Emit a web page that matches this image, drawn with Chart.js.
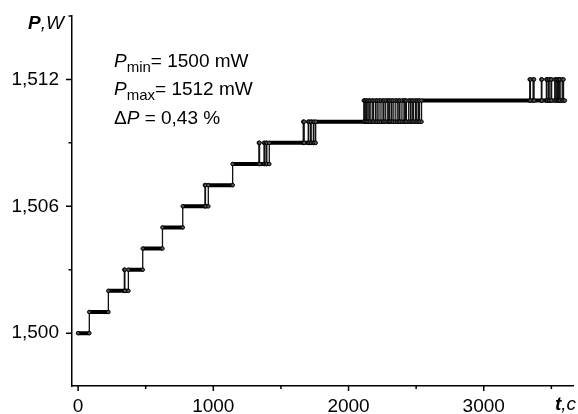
<!DOCTYPE html>
<html><head><meta charset="utf-8">
<script src="https://cdn.jsdelivr.net/npm/chart.js@4/dist/chart.umd.min.js"></script>
<style>html,body{margin:0;padding:0;background:#fff}#wrap{width:578px;height:414px}</style>
</head><body><div id="wrap"><canvas id="c" width="578" height="414"></canvas></div>
<script>
// time (s) at which each power level starts
const stepTimes = [
  0, 83, 224, 342, 346, 372, 478, 624, 774, 938, 942, 963, 1143,
  1337, 1342, 1375, 1380, 1392, 1396, 1414,
  1665, 1672, 1702, 1706, 1720, 1724, 1740, 1744, 1757,
  2113, 2120, 2130, 2138, 2150, 2160, 2175, 2185, 2200, 2212, 2225, 2240,
  2255, 2262, 2275, 2290, 2300, 2305, 2318, 2330, 2345, 2360, 2372, 2380,
  2395, 2410, 2420, 2428, 2445, 2458, 2470, 2480, 2495, 2505, 2518, 2525, 2540,
  3340, 3345, 3365, 3372, 3426, 3430, 3463, 3468, 3480, 3484, 3497, 3502,
  3525, 3535, 3545, 3552, 3560, 3565, 3580, 3590
];
// power level (W) from that time on
const stepLevels = [
  1.500, 1.501, 1.502, 1.503, 1.502, 1.503, 1.504, 1.505, 1.506, 1.507, 1.506, 1.507, 1.508,
  1.509, 1.508, 1.509, 1.508, 1.509, 1.508, 1.509,
  1.510, 1.509, 1.510, 1.509, 1.510, 1.509, 1.510, 1.509, 1.510,
  1.511, 1.510, 1.511, 1.510, 1.511, 1.510, 1.511, 1.510, 1.511, 1.510, 1.511, 1.510,
  1.511, 1.510, 1.511, 1.510, 1.511, 1.510, 1.511, 1.510, 1.511, 1.510, 1.511, 1.510,
  1.511, 1.510, 1.511, 1.510, 1.511, 1.510, 1.511, 1.510, 1.511, 1.510, 1.511, 1.510, 1.511,
  1.512, 1.511, 1.512, 1.511, 1.512, 1.511, 1.512, 1.511, 1.512, 1.511, 1.512, 1.511,
  1.512, 1.511, 1.512, 1.511, 1.512, 1.511, 1.512, 1.511
];
const endTime = 3600;

const xMajorTicks = [0, 1000, 2000, 3000];
const xMinorTicks = [500, 1500, 2500, 3500];
const yMajorTicks = [1.500, 1.506, 1.512];
const yMinorTicks = [1.503, 1.509, 1.515];

const FONT = '"Liberation Sans", Arial, sans-serif';
const FS = 19;

// thin stepped line (verticals)
const stepData = stepTimes.map((t, i) => ({x: t, y: stepLevels[i]}));
stepData.push({x: endTime, y: stepLevels[stepLevels.length - 1]});

// thick horizontal runs
const runData = [];
stepTimes.forEach((t, i) => {
  const tEnd = i + 1 < stepTimes.length ? stepTimes[i + 1] : endTime;
  runData.push({x: t, y: stepLevels[i]});
  runData.push({x: tEnd, y: stepLevels[i]});
  runData.push({x: tEnd, y: null});
});

const axisDecor = {
  id: 'axisDecor',
  afterDraw(chart) {
    const ctx = chart.ctx;
    const xs = chart.scales.x, ys = chart.scales.y;
    const area = chart.chartArea;
    ctx.save();
    ctx.strokeStyle = '#000';
    ctx.lineWidth = 1.5;
    ctx.beginPath();
    xMajorTicks.forEach(v => { const p = xs.getPixelForValue(v); ctx.moveTo(p, area.bottom); ctx.lineTo(p, area.bottom + 5); });
    xMinorTicks.forEach(v => { const p = xs.getPixelForValue(v); ctx.moveTo(p, area.bottom); ctx.lineTo(p, area.bottom + 3); });
    yMajorTicks.forEach(v => { const p = ys.getPixelForValue(v); ctx.moveTo(area.left, p); ctx.lineTo(area.left - 6, p); });
    yMinorTicks.forEach(v => { const p = ys.getPixelForValue(v); ctx.moveTo(area.left, p); ctx.lineTo(area.left - 3.5, p); });
    ctx.stroke();

    ctx.fillStyle = '#000';
    ctx.textBaseline = 'alphabetic';
    // axis titles
    ctx.textAlign = 'left';
    ctx.font = 'italic bold ' + FS + 'px ' + FONT;
    ctx.fillText('P', 28, 29);
    let w = ctx.measureText('P').width;
    ctx.font = 'italic ' + FS + 'px ' + FONT;
    ctx.fillText(',W', 28 + w, 29);

    ctx.font = 'italic bold ' + FS + 'px ' + FONT;
    ctx.fillText('t', 555, 410);
    w = ctx.measureText('t').width;
    ctx.font = 'italic ' + FS + 'px ' + FONT;
    ctx.fillText(',c', 555 + w, 410);

    // annotation
    const x0 = 114;
    const lines = [
      ['P', 'min', '= 1500 mW', 67],
      ['P', 'max', '= 1512 mW', 95],
    ];
    lines.forEach(([p, sub, rest, y]) => {
      let x = x0;
      ctx.font = 'italic ' + FS + 'px ' + FONT;
      ctx.fillText(p, x, y); x += ctx.measureText(p).width;
      ctx.font = '15px ' + FONT;
      ctx.fillText(sub, x, y + 5); x += ctx.measureText(sub).width;
      ctx.font = FS + 'px ' + FONT;
      ctx.fillText(rest, x, y);
    });
    let x = x0;
    const y3 = 124;
    ctx.font = FS + 'px ' + FONT;
    ctx.fillText('\u0394', x, y3); x += ctx.measureText('\u0394').width;
    ctx.font = 'italic ' + FS + 'px ' + FONT;
    ctx.fillText('P', x, y3); x += ctx.measureText('P').width;
    ctx.font = FS + 'px ' + FONT;
    ctx.fillText(' = 0,43 %', x, y3);
    ctx.restore();
  }
};

new Chart(document.getElementById('c'), {
  type: 'line',
  data: {
    datasets: [
      {
        data: runData,
        borderColor: '#000',
        borderWidth: 4,
        borderCapStyle: 'butt',
        spanGaps: false,
        pointRadius: 1.8,
        pointBorderWidth: 1,
        pointBorderColor: '#000',
        pointBackgroundColor: '#555',
        order: 1
      },
      {
        data: stepData,
        stepped: 'before',
        borderColor: '#111',
        borderWidth: 1.3,
        pointRadius: 0,
        order: 2
      }
    ]
  },
  options: {
    responsive: false,
    devicePixelRatio: 1,
    animation: false,
    layout: {padding: {top: 16, right: 5, left: 0, bottom: 0}},
    plugins: {legend: {display: false}, tooltip: {enabled: false}},
    scales: {
      x: {
        type: 'linear',
        min: -45,
        max: 3660,
        border: {color: '#000', width: 1.5},
        grid: {display: false, drawTicks: false},
        afterBuildTicks: s => { s.ticks = xMajorTicks.map(v => ({value: v})); },
        afterFit: s => { s.height = 28; s.paddingLeft = 0; s.paddingRight = 0; },
        ticks: {
          color: '#000',
          font: {family: FONT, size: FS},
          padding: 9,
          maxRotation: 0,
          autoSkip: false,
          callback: v => String(v)
        }
      },
      y: {
        type: 'linear',
        min: 1.4975,
        max: 1.515,
        border: {color: '#000', width: 1.5},
        grid: {display: false, drawTicks: false},
        afterBuildTicks: s => { s.ticks = yMajorTicks.map(v => ({value: v})); },
        afterFit: s => { s.width = 72; s.paddingTop = 0; s.paddingBottom = 0; },
        ticks: {
          color: '#000',
          font: {family: FONT, size: FS},
          padding: 13,
          autoSkip: false,
          callback: v => v.toFixed(3).replace('.', ',')
        }
      }
    }
  },
  plugins: [axisDecor]
});
</script>
</body></html>
